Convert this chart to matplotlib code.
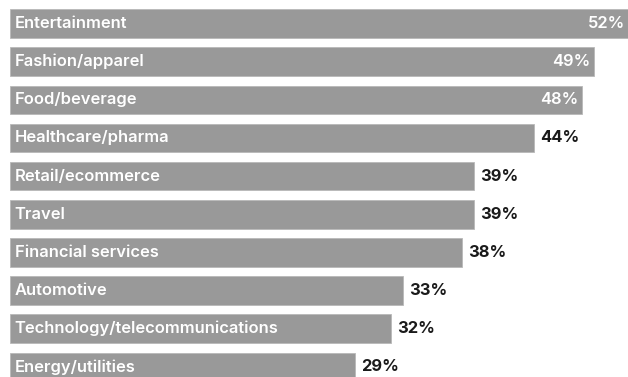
import matplotlib.pyplot as plt

categories = [
    "Entertainment",
    "Fashion/apparel",
    "Food/beverage",
    "Healthcare/pharma",
    "Retail/ecommerce",
    "Travel",
    "Financial services",
    "Automotive",
    "Technology/telecommunications",
    "Energy/utilities",
]
values = [52, 49, 48, 44, 39, 39, 38, 33, 32, 29]
value_labels = ["52%", "49%", "48%", "44%", "39%", "39%", "38%", "33%", "32%", "29%"]

BAR_COLOR = "#999999"
W, H = 628, 377
PX_PER_UNIT = 11.92
LEFT_PX = 9.5
ROW_PX = 38.15
TOP_CENTER_PX = 23.5
FS = 11.9


def main():
    fig = plt.figure(figsize=(W / 100, H / 100), dpi=100)
    ax = fig.add_axes([0, 0, 1, 1])

    ypos = list(range(len(categories)))
    ax.barh(ypos, values, height=28.5 / ROW_PX, color=BAR_COLOR,
            edgecolor="#b8b8b8", linewidth=0.6)

    ax.set_xlim(-LEFT_PX / PX_PER_UNIT, (W - LEFT_PX) / PX_PER_UNIT)
    ax.set_ylim((H - TOP_CENTER_PX) / ROW_PX, -TOP_CENTER_PX / ROW_PX)
    ax.axis("off")

    for y, cat, v, lab in zip(ypos, categories, values, value_labels):
        ax.text(5 / PX_PER_UNIT, y, cat, color="white", fontsize=FS,
                fontfamily="Inter", fontweight="semibold",
                va="center", ha="left")
        if v >= 48:
            x_end = min(v, (W - LEFT_PX) / PX_PER_UNIT)
            ax.text(x_end - 3 / PX_PER_UNIT, y, lab, color="white", fontsize=FS,
                    fontfamily="Inter", fontweight="semibold",
                    va="center", ha="right")
        else:
            ax.text(v + 6 / PX_PER_UNIT, y, lab, color="#1a1a1a", fontsize=FS,
                    fontfamily="Inter", fontweight="bold",
                    va="center", ha="left")

    fig.savefig("out.png", dpi=100, facecolor="white")
    plt.close(fig)


if __name__ == "__main__":
    main()
